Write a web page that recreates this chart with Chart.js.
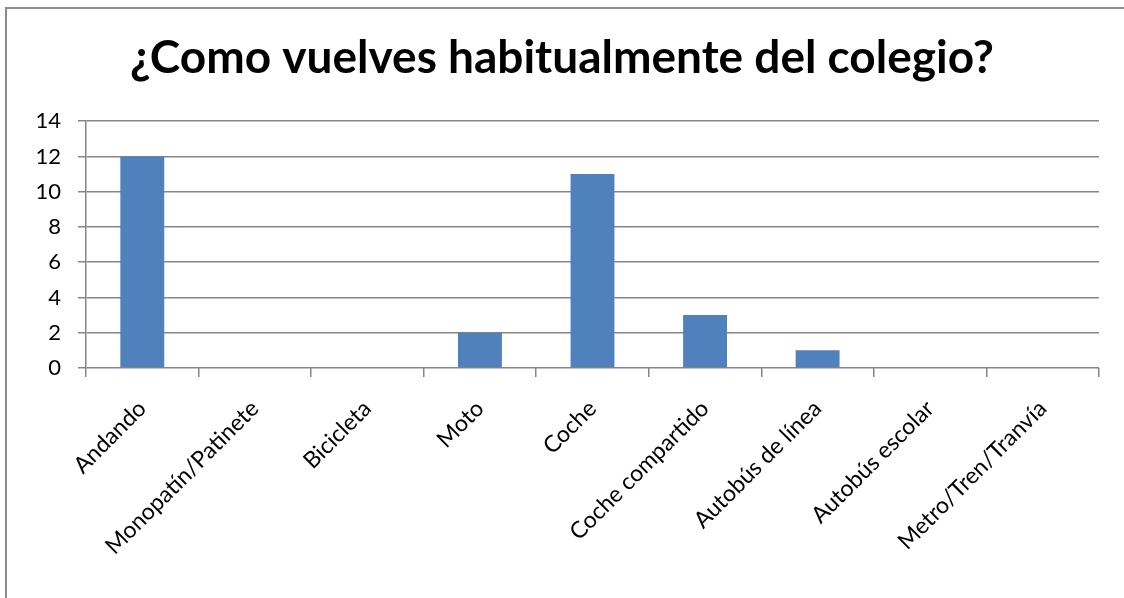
<!DOCTYPE html>
<html>
<head>
<meta charset="utf-8">
<script src="https://cdn.jsdelivr.net/npm/chart.js@4"></script>
<style>
  html, body { margin: 0; padding: 0; background: #fff; overflow: hidden; width: 1124px; height: 598px; }
  .borde { position: absolute; background: #8c8c8c; }
  #bordeArriba { left: 5px; top: 7px; width: 1119px; height: 2px; }
  #bordeIzq { left: 5px; top: 7px; width: 2px; height: 591px; }
  #wrap { position: absolute; left: 0; top: 0; width: 1124px; height: 598px; }
</style>
</head>
<body>
<div class="borde" id="bordeArriba"></div>
<div class="borde" id="bordeIzq"></div>
<div id="wrap"><canvas id="grafico"></canvas></div>
<script>
// datos de la encuesta
let categorias = ['Andando','Monopatín/Patinete','Bicicleta','Moto','Coche','Coche compartido','Autobús de línea','Autobús escolar','Metro/Tren/Tranvía'];
let respuestas = [12, 0, 0, 2, 11, 3, 1, 0, 0];
let ticksY = [0, 2, 4, 6, 8, 10, 12, 14];
let titulo = '¿Como vuelves habitualmente del colegio?';

const gris = '#868686';
const fuente = "Lato, 'Open Sans', sans-serif";

let ctx = document.getElementById('grafico').getContext('2d');
let grafico = new Chart(ctx, {
  type: 'bar',
  data: {
    labels: categorias,
    datasets: [{
      data: respuestas,
      backgroundColor: '#4F81BD',
      barPercentage: 0.39,
      categoryPercentage: 1
    }]
  },
  options: {
    responsive: true,
    maintainAspectRatio: false,
    animation: false,
    layout: { padding: 0 },
    plugins: {
      legend: { display: false },
      tooltip: { enabled: false },
      title: {
        display: true,
        text: titulo,
        color: '#000',
        font: { family: fuente, size: 46, weight: 'bold' },
        padding: { top: 31, bottom: 35 }
      }
    },
    scales: {
      x: {
        grid: { drawOnChartArea: false, drawTicks: true, tickLength: 9, color: gris, lineWidth: 1.5 },
        border: { display: false },
        ticks: {
          color: '#000',
          font: { family: fuente, size: 23 },
          maxRotation: 45,
          minRotation: 45,
          padding: 18
        },
        afterFit: function(scale) { scale.height = 230; }
      },
      y: {
        min: 0,
        max: 14,
        afterBuildTicks: function(scale) { scale.ticks = ticksY.map(v => ({ value: v })); },
        grid: { color: gris, lineWidth: 1.5, tickLength: 8 },
        border: { color: gris, width: 1.5 },
        ticks: {
          color: '#000',
          font: { family: fuente, size: 22 },
          padding: 17
        },
        afterFit: function(scale) { scale.width = 86; }
      },
      // eje vacio a la derecha, solo para dejar el margen
      margen: {
        position: 'right',
        display: true,
        grid: { display: false },
        border: { display: false },
        ticks: { display: false },
        afterFit: function(scale) { scale.width = 25; }
      }
    }
  }
});
</script>
</body>
</html>
